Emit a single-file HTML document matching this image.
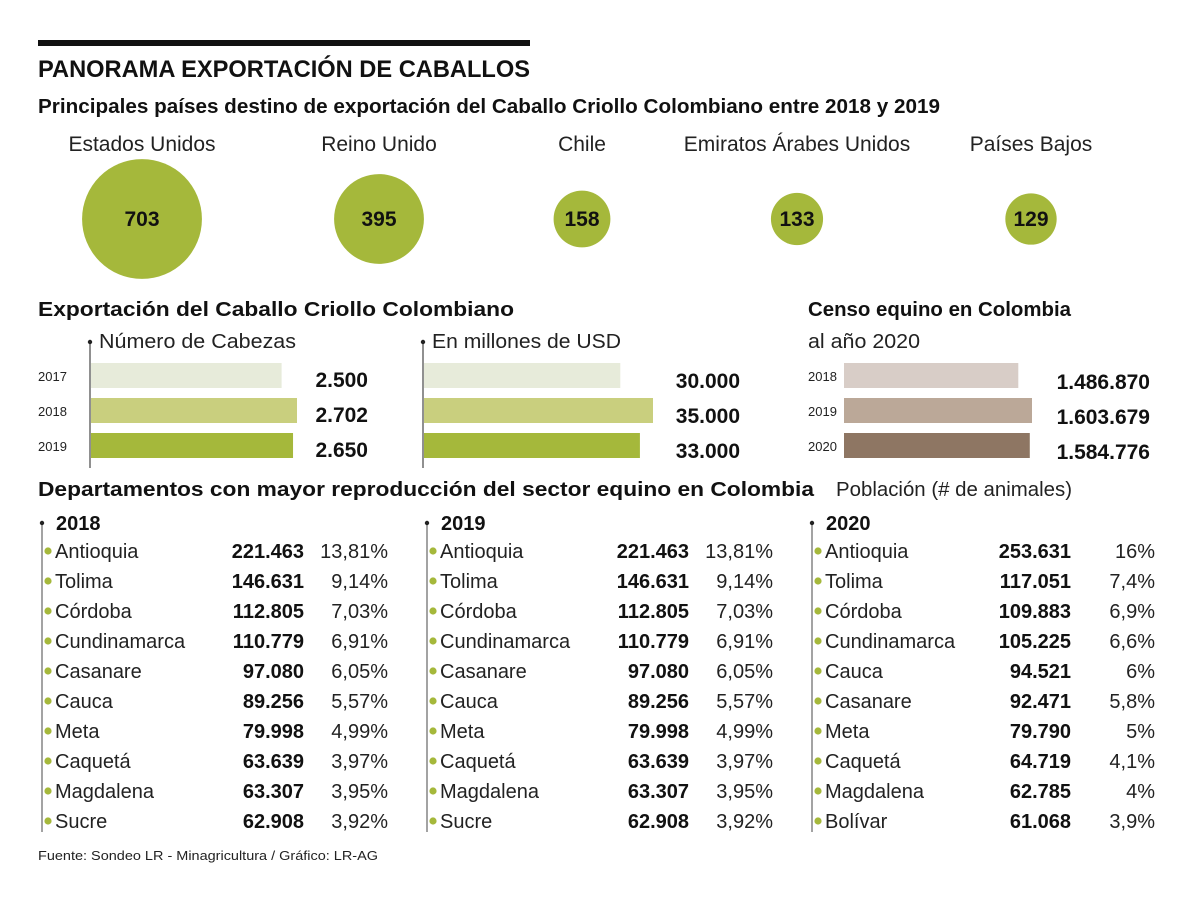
<!DOCTYPE html>
<html><head><meta charset="utf-8"><style>
html,body{margin:0;padding:0;background:#fff}
svg{display:block;font-family:"Liberation Sans",sans-serif}
</style></head><body>
<svg id="chart" width="1200" height="901" viewBox="0 0 1200 901" xmlns="http://www.w3.org/2000/svg">
<rect x="0" y="0" width="1200" height="901" fill="#fff"/>
<rect x="38" y="40" width="492" height="6" fill="#111"/>
<text x="38" y="77" font-size="24" font-weight="bold" fill="#111" textLength="492" lengthAdjust="spacingAndGlyphs">PANORAMA EXPORTACIÓN DE CABALLOS</text>
<text x="38" y="113" font-size="20" font-weight="bold" fill="#111" textLength="902" lengthAdjust="spacingAndGlyphs">Principales países destino de exportación del Caballo Criollo Colombiano entre 2018 y 2019</text>
<g id="bubbles"></g>
<text x="38" y="316" font-size="20" font-weight="bold" fill="#111" textLength="476" lengthAdjust="spacingAndGlyphs">Exportación del Caballo Criollo Colombiano</text>
<text x="808" y="316" font-size="20" font-weight="bold" fill="#111" textLength="263" lengthAdjust="spacingAndGlyphs">Censo equino en Colombia</text>
<text x="808" y="348" font-size="20" fill="#222" textLength="112" lengthAdjust="spacingAndGlyphs">al año 2020</text>
<g id="bars"></g>
<text x="38" y="496" font-size="20" font-weight="bold" fill="#111" textLength="776" lengthAdjust="spacingAndGlyphs">Departamentos con mayor reproducción del sector equino en Colombia</text>
<text x="836" y="496" font-size="20" fill="#222" textLength="236" lengthAdjust="spacingAndGlyphs">Población (# de animales)</text>
<g id="tables"></g>
<text x="38" y="860" font-size="13" fill="#222" textLength="340" lengthAdjust="spacingAndGlyphs">Fuente: Sondeo LR - Minagricultura  / Gráfico: LR-AG</text>
</svg>
<script>
const countries = ["Estados Unidos","Reino Unido","Chile","Emiratos Árabes Unidos","Países Bajos"];
const countryValues = [703,395,158,133,129];
const bubbleX = [142,379,582,797,1031];

const cabYears = ["2017","2018","2019"];
const cabValues = [2500,2702,2650];
const cabLabels = ["2.500","2.702","2.650"];
const usdValues = [30000,35000,33000];
const usdLabels = ["30.000","35.000","33.000"];
const censoYears = ["2018","2019","2020"];
const censoValues = [1486870,1603679,1584776];
const censoLabels = ["1.486.870","1.603.679","1.584.776"];

const tblYears = ["2018","2019","2020"];
const names2018 = ["Antioquia","Tolima","Córdoba","Cundinamarca","Casanare","Cauca","Meta","Caquetá","Magdalena","Sucre"];
const vals2018 = ["221.463","146.631","112.805","110.779","97.080","89.256","79.998","63.639","63.307","62.908"];
const pcts2018 = ["13,81%","9,14%","7,03%","6,91%","6,05%","5,57%","4,99%","3,97%","3,95%","3,92%"];
const names2019 = names2018;
const vals2019 = vals2018;
const pcts2019 = pcts2018;
const names2020 = ["Antioquia","Tolima","Córdoba","Cundinamarca","Cauca","Casanare","Meta","Caquetá","Magdalena","Bolívar"];
const vals2020 = ["253.631","117.051","109.883","105.225","94.521","92.471","79.790","64.719","62.785","61.068"];
const pcts2020 = ["16%","7,4%","6,9%","6,6%","6%","5,8%","5%","4,1%","4%","3,9%"];

const NS="http://www.w3.org/2000/svg";
function mk(tag, attrs, parent, txt){
  const e=document.createElementNS(NS,tag);
  for(const k in attrs) e.setAttribute(k,attrs[k]);
  if(txt!==undefined) e.textContent=txt;
  parent.appendChild(e); return e;
}
const GREEN="#a5b83b";

const gb=document.getElementById('bubbles');
const rScale=v=>2.26*Math.sqrt(v);
countries.forEach((c,i)=>{
  const t=mk('text',{x:bubbleX[i],y:151,'text-anchor':'middle','font-size':21,fill:'#222'},gb,c);
  
  
  const ci=mk('circle',{cx:bubbleX[i],cy:219,r:rScale(countryValues[i]),fill:GREEN},gb);
  
  
  const v=mk('text',{x:bubbleX[i],y:226,'text-anchor':'middle','font-size':21,'font-weight':'bold',fill:'#111'},gb,String(countryValues[i]));
  
  
});

const gbar=document.getElementById('bars');
function barChart(opt){
  const {x0,maxW,maxV,values,labels,years,colors,valX,valDy,axis,title,titleLen,yearX,prefix}=opt;
  const sc=v=>v/maxV*maxW;
  if(axis){
    const l=mk('line',{x1:x0-1,y1:342,x2:x0-1,y2:468,stroke:'#555','stroke-width':1.3},gbar);
    
    
    mk('circle',{cx:x0-1,cy:342,r:2.2,fill:'#222'},gbar);
    const t=mk('text',{x:x0+8,y:348,'font-size':20,fill:'#222',textLength:titleLen,lengthAdjust:'spacingAndGlyphs'},gbar,title);
    
    
  }
  values.forEach((v,i)=>{
    const y=363+i*35;
    const r=mk('rect',{x:x0,y:y,width:sc(v),height:25,fill:colors[i]},gbar);
    
    
    if(years){
      const yt=mk('text',{x:yearX,y:y+18,'font-size':13,fill:'#222'},gbar,years[i]);
      
      
    }
    const vt=mk('text',{x:valX,y:y+18+valDy,'text-anchor':'end','font-size':21,'font-weight':'bold',fill:'#111'},gbar,labels[i]);
    
    
  });
}
barChart({prefix:'heads',x0:91,maxW:206,maxV:2702,values:cabValues,labels:cabLabels,years:cabYears,yearX:38,colors:["#e7ebda","#c9cf7e","#a5b83b"],valX:368,valDy:6,axis:true,title:"Número de Cabezas",titleLen:197});
barChart({prefix:'usd',x0:424,maxW:229,maxV:35000,values:usdValues,labels:usdLabels,years:null,colors:["#e7ebda","#c9cf7e","#a5b83b"],valX:740,valDy:7,axis:true,title:"En millones de USD",titleLen:189});
barChart({prefix:'census',x0:844,maxW:188,maxV:1603679,values:censoValues,labels:censoLabels,years:censoYears,yearX:808,colors:["#d8cdc7","#bba898","#8e7663"],valX:1150,valDy:8,axis:false});

const gt=document.getElementById('tables');
const tblNames=[names2018,names2019,names2020];
const tblVals=[vals2018,vals2019,vals2020];
const tblPcts=[pcts2018,pcts2019,pcts2020];
const colX=[42,427,812];
const valR=[304,689,1071];
const pctR=[388,773,1155];
tblYears.forEach((yr,c)=>{
  const x=colX[c];
  const ln=mk('line',{x1:x,y1:523,x2:x,y2:832,stroke:'#666','stroke-width':1.2},gt);
  
  
  mk('circle',{cx:x,cy:523,r:2.2,fill:'#222'},gt);
  const h=mk('text',{x:x+14,y:530,'font-size':20,'font-weight':'bold',fill:'#111'},gt,yr);
  
  
  tblNames[c].forEach((n,i)=>{
    const y=551+i*30;
    const d=mk('circle',{cx:x+6,cy:y,r:3.6,fill:GREEN},gt);
    
    
    const nt=mk('text',{x:x+13,y:y+7,'font-size':20,fill:'#222'},gt,n);
    
    
    const vt=mk('text',{x:valR[c],y:y+7,'text-anchor':'end','font-size':20,'font-weight':'bold',fill:'#111'},gt,tblVals[c][i]);
    
    
    const pt=mk('text',{x:pctR[c],y:y+7,'text-anchor':'end','font-size':20,fill:'#222'},gt,tblPcts[c][i]);
    
    
  });
});
</script>
</body></html>
